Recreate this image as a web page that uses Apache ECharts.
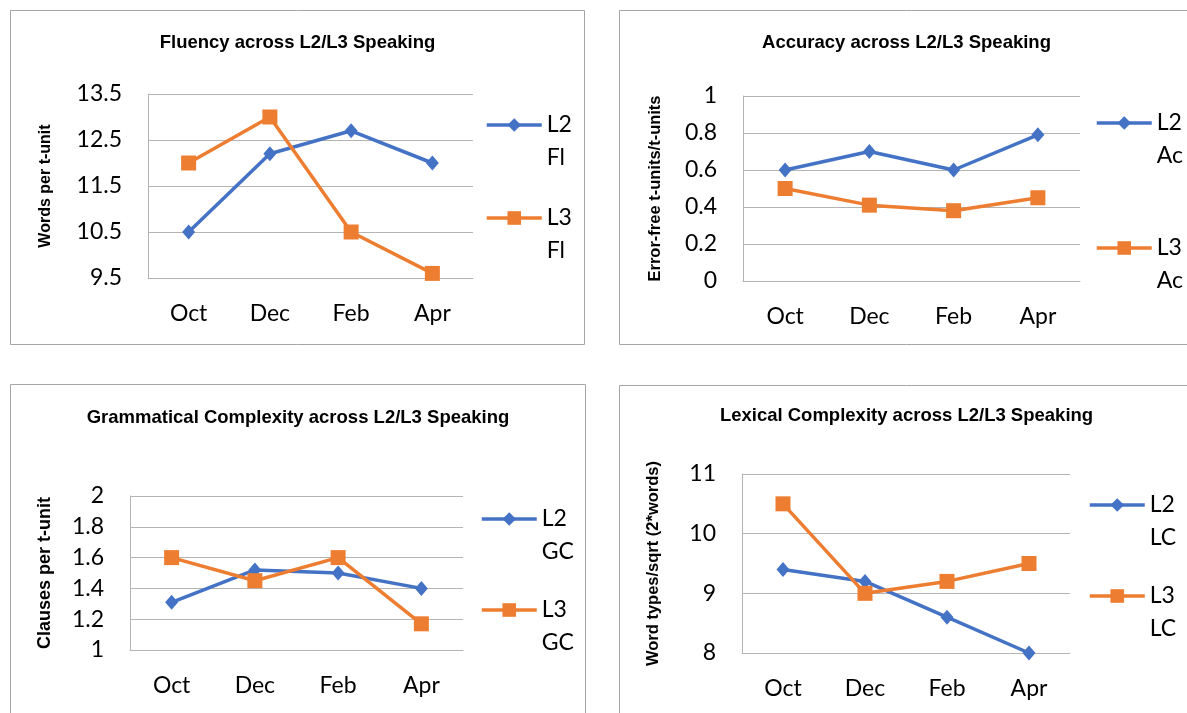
<!DOCTYPE html>
<html>
<head>
<meta charset="utf-8">
<script src="https://cdn.jsdelivr.net/npm/echarts@6/dist/echarts.min.js"></script>
<style>
    html, body { margin: 0; padding: 0; background: #fff; overflow: hidden; }
    body { width: 1187px; height: 713px; position: relative; }
    .panel { position: absolute; width: 575px; height: 335px; }
</style>
</head>
<body>
<div class="panel" id="chart_fl" style="left:10px;top:10px;"></div>
<div class="panel" id="chart_ac" style="left:619px;top:10px;"></div>
<div class="panel" id="chart_gc" style="left:10px;top:384px;width:576px;"></div>
<div class="panel" id="chart_lc" style="left:619px;top:385px;"></div>
<script>
// 数据
var months = ['Oct', 'Dec', 'Feb', 'Apr'];
var fluencyL2 = [10.5, 12.2, 12.7, 12.0];
var fluencyL3 = [12.0, 13.0, 10.5, 9.6];
var accuracyL2 = [0.60, 0.70, 0.60, 0.79];
var accuracyL3 = [0.50, 0.41, 0.38, 0.45];
var gramL2 = [1.31, 1.52, 1.50, 1.40];
var gramL3 = [1.60, 1.45, 1.60, 1.17];
var lexL2 = [9.4, 9.2, 8.6, 8.0];
var lexL3 = [10.5, 9.0, 9.2, 9.5];

var BLUE = '#4472C4';
var ORANGE = '#ED7D31';
var GRID = '#b4b4b4';
var LABEL_FONT = 'Lato, "Liberation Sans", sans-serif';
var BOLD_FONT = '"Liberation Sans", Arial, sans-serif';

/**
 * 单个面板
 * @param {str} id dom
 * @param {obj} cfg
 */
var drawPanel = function (id, cfg) {
    var dom = document.getElementById(id);
    var chart = echarts.init(dom, null, {renderer: 'canvas'});
    var w = dom.offsetWidth, h = dom.offsetHeight;

    // 图例: 空第一行, 让 "L2" 与图标对齐, 第二行在下方
    var legendOf = function (name, top) {
        return {
            data: [name],
            left: cfg.legendLeft,
            top: top,
            padding: 0,
            itemWidth: 55,
            itemHeight: 17,
            itemGap: 0,
            lineStyle: {width: 3.5},
            formatter: function (n) { return '\u00a0\n' + n.replace(' ', '\n'); },
            textStyle: {
                fontFamily: LABEL_FONT,
                fontSize: 23,
                lineHeight: 33,
                color: '#000'
            }
        };
    };

    var option = {
        animation: false,
        title: {
            text: cfg.title,
            left: 'center',
            top: cfg.titleTop,
            textStyle: {
                fontFamily: BOLD_FONT,
                fontSize: 18.5,
                fontWeight: 'bold',
                color: '#000'
            }
        },
        graphic: [{
            type: 'rect',
            shape: {x: 0.5, y: 0.5, width: w - 1, height: h - 1},
            style: {fill: null, stroke: '#a6a6a6', lineWidth: 1},
            silent: true
        }],
        legend: [
            legendOf(cfg.names[0], cfg.legendTop[0]),
            legendOf(cfg.names[1], cfg.legendTop[1])
        ],
        grid: cfg.grid,
        xAxis: {
            type: 'category',
            data: months,
            axisLine: {lineStyle: {color: GRID, width: 1}},
            axisTick: {show: false},
            axisLabel: {
                fontFamily: LABEL_FONT,
                fontSize: 23,
                color: '#000',
                margin: 24
            }
        },
        yAxis: {
            type: 'value',
            min: cfg.min,
            max: cfg.max,
            interval: cfg.interval,
            name: cfg.yName,
            nameLocation: 'middle',
            nameGap: cfg.nameGap,
            nameTextStyle: {
                fontFamily: BOLD_FONT,
                fontSize: cfg.nameSize,
                fontWeight: 'bold',
                color: '#000'
            },
            axisLine: {show: true, lineStyle: {color: GRID, width: 1}},
            axisTick: {show: false},
            splitLine: {lineStyle: {color: GRID, width: 1}},
            axisLabel: {
                fontFamily: LABEL_FONT,
                fontSize: 23,
                color: '#000',
                margin: 26
            }
        },
        series: [
            {
                name: cfg.names[0],
                type: 'line',
                data: cfg.l2,
                color: BLUE,
                symbol: 'diamond',
                symbolSize: [13, 15],
                lineStyle: {width: 3.5},
                itemStyle: {color: BLUE}
            },
            {
                name: cfg.names[1],
                type: 'line',
                data: cfg.l3,
                color: ORANGE,
                symbol: 'rect',
                symbolSize: 15,
                lineStyle: {width: 3.5},
                itemStyle: {color: ORANGE}
            }
        ]
    };

    chart.setOption(option);
    return chart;
};

drawPanel('chart_fl', {
    title: 'Fluency across L2/L3 Speaking',
    titleTop: 18,
    yName: 'Words per t-unit',
    nameSize: 16,
    nameGap: 94,
    names: ['L2 Fl', 'L3 Fl'],
    l2: fluencyL2,
    l3: fluencyL3,
    min: 9.5, max: 13.5, interval: 1,
    grid: {left: 138, top: 84, width: 325, height: 184},
    legendLeft: 475,
    legendTop: [65.5, 158.5]
});

drawPanel('chart_ac', {
    title: 'Accuracy across L2/L3 Speaking',
    titleTop: 18,
    yName: 'Error-free t-units/t-units',
    nameSize: 16.5,
    nameGap: 79,
    names: ['L2 Ac', 'L3 Ac'],
    l2: accuracyL2,
    l3: accuracyL3,
    min: 0, max: 1, interval: 0.2,
    grid: {left: 124, top: 86, width: 337, height: 185},
    legendLeft: 476,
    legendTop: [63.5, 188.5]
});

drawPanel('chart_gc', {
    title: 'Grammatical Complexity across L2/L3 Speaking',
    titleTop: 19,
    yName: 'Clauses per t-unit',
    nameSize: 18,
    nameGap: 76,
    names: ['L2 GC', 'L3 GC'],
    l2: gramL2,
    l3: gramL3,
    min: 1, max: 2, interval: 0.2,
    grid: {left: 120, top: 112, width: 333, height: 154},
    legendLeft: 470,
    legendTop: [85.5, 176.5]
});

drawPanel('chart_lc', {
    title: 'Lexical Complexity across L2/L3 Speaking',
    titleTop: 16,
    yName: 'Word types/sqrt (2*words)',
    nameSize: 16.5,
    nameGap: 80,
    names: ['L2 LC', 'L3 LC'],
    l2: lexL2,
    l3: lexL3,
    min: 8, max: 11, interval: 1,
    grid: {left: 123, top: 89, width: 328, height: 179},
    legendLeft: 469,
    legendTop: [70.5, 161.5]
});
</script>
</body>
</html>
